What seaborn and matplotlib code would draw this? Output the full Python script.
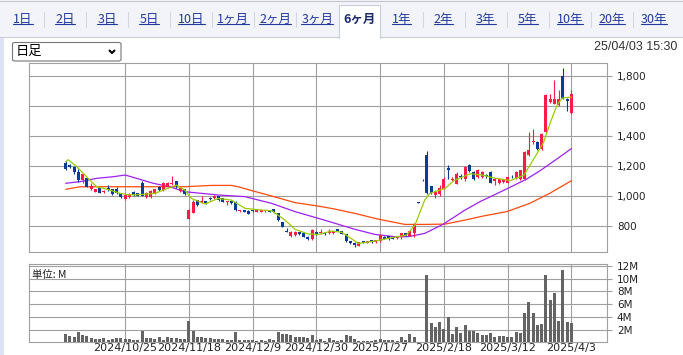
import matplotlib
matplotlib.use("Agg")
import matplotlib.pyplot as plt
import seaborn as sns
import numpy as np
from matplotlib.patches import Rectangle, FancyBboxPatch
from matplotlib.lines import Line2D

# ---- données (jour de bourse 0..119, prix en yen) ----
opens = [1222, 1207, 1196, 1162, 1107, 1118, 1047, 1029, 1051, 1027,
         1051, 1045, 1045, 1018, 978, 991, 1029, 1018, 1089, 996,
         996, 1018, 1062, 1040, 1062, 1080, 1100, 1036, 1044, 848,
         889, 973, 960, 965, 987, 984, 1000, 984, 960, 968,
         962, 898, 905, 902, 905, 896, 896, 900, 908, 911,
         884, 824, 769, 733, 740, 758, 751, 729, 711, 762,
         751, 751, 751, 751, 778, 767, 747, 700, 689, 669,
         700, 686, 704, 691, 700, 729, 733, 729, 718, 729,
         751, 736, 751, 960, 1109, 1273, 1067, 1007, 1013, 1049,
         1186, 1109, 1082, 1133, 1115, 1209, 1160, 1126, 1126, 1140,
         1160, 1098, 1089, 1093, 1089, 1128, 1120, 1115, 1115, 1275,
         1360, 1360, 1311, 1426, 1626, 1615, 1604, 1800, 1649, 1551]
closes = [1180, 1192, 1158, 1107, 1145, 1062, 1067, 1047, 1022, 1030,
          1040, 1015, 1020, 991, 1007, 1013, 1007, 1002, 1002, 1022,
          1033, 1044, 1040, 1084, 1089, 1085, 1065, 1051, 1013, 905,
          962, 940, 965, 952, 978, 1000, 973, 962, 965, 951,
          907, 905, 896, 882, 898, 907, 906, 903, 896, 893,
          840, 796, 762, 762, 762, 744, 729, 713, 773, 747,
          762, 744, 767, 767, 767, 747, 700, 684, 671, 693,
          689, 700, 693, 704, 740, 715, 713, 715, 729, 751,
          738, 767, 807, 955, 1104, 1018, 1018, 1024, 1055, 1115,
          1177, 1113, 1149, 1129, 1193, 1164, 1115, 1171, 1160, 1136,
          1089, 1115, 1111, 1111, 1126, 1124, 1160, 1171, 1297, 1304,
          1366, 1311, 1415, 1671, 1644, 1644, 1649, 1649, 1635, 1682]
highs = [1232, 1212, 1200, 1178, 1155, 1120, 1085, 1050, 1053, 1040,
         1073, 1048, 1058, 1020, 1010, 1018, 1033, 1022, 1098, 1025,
         1040, 1047, 1066, 1095, 1092, 1133, 1102, 1053, 1047, 912,
         975, 976, 1000, 968, 993, 1007, 1003, 986, 968, 970,
         965, 907, 908, 904, 908, 910, 909, 907, 910, 913,
         886, 826, 785, 765, 765, 760, 753, 731, 778, 765,
         778, 754, 778, 770, 781, 769, 750, 702, 692, 696,
         702, 703, 706, 707, 747, 731, 735, 731, 731, 753,
         754, 770, 818, 962, 1111, 1302, 1070, 1040, 1073, 1125,
         1209, 1125, 1160, 1145, 1200, 1212, 1165, 1178, 1165, 1150,
         1165, 1118, 1113, 1113, 1130, 1142, 1165, 1175, 1300, 1426,
         1449, 1364, 1420, 1680, 1678, 1771, 1704, 1853, 1652, 1707]
lows = [1175, 1185, 1150, 1095, 1090, 1058, 1040, 1025, 1018, 1018,
        1036, 1010, 1015, 985, 975, 988, 1002, 998, 998, 985,
        990, 1015, 1036, 1036, 1058, 1075, 1055, 1030, 1005, 845,
        885, 935, 955, 948, 975, 980, 970, 958, 940, 948,
        900, 895, 893, 878, 895, 893, 894, 896, 893, 890,
        836, 792, 758, 730, 737, 740, 725, 709, 708, 742,
        748, 740, 748, 748, 764, 744, 696, 680, 658, 666,
        686, 684, 690, 689, 696, 711, 710, 711, 715, 713,
        735, 733, 729, 953, 1102, 1011, 1011, 985, 1000, 1045,
        1111, 1100, 1078, 1115, 1098, 1160, 1110, 1120, 1122, 1122,
        1085, 1075, 1080, 1088, 1085, 1120, 1115, 1110, 1110, 1270,
        1350, 1305, 1305, 1420, 1620, 1612, 1600, 1645, 1564, 1545]

# volume (millions)
volume_m = [1.3, 1.0, 0.9, 1.6, 1.1, 1.0, 0.7, 0.5, 0.5, 0.7,
            0.4, 0.5, 0.7, 0.7, 0.5, 0.5, 0.4, 0.4, 1.8, 0.7,
            0.7, 0.5, 0.8, 0.4, 0.8, 0.7, 0.7, 0.5, 0.5, 3.3,
            1.8, 0.8, 0.8, 0.7, 0.7, 0.5, 0.5, 0.5, 0.4, 0.4,
            1.6, 0.4, 0.4, 0.4, 0.4, 0.2, 0.4, 0.2, 0.5, 0.4,
            1.6, 1.3, 1.3, 1.1, 0.8, 0.8, 0.8, 0.7, 1.1, 0.4,
            0.5, 0.2, 0.7, 0.4, 0.2, 0.4, 1.1, 1.0, 0.5, 0.2,
            0.2, 0.2, 0.2, 0.4, 0.5, 0.3, 0.4, 0.4, 0.2, 0.8,
            0.4, 1.3, 0.8, 0.05, 0.05, 10.6, 3.0, 2.4, 3.2, 2.1,
            3.9, 1.35, 2.4, 1.5, 2.7, 1.8, 1.8, 1.45, 1.15, 1.15,
            1.45, 0.83, 1.0, 1.0, 0.83, 0.83, 1.6, 1.45, 4.6, 6.3,
            4.6, 2.7, 2.85, 10.6, 6.6, 7.8, 3.3, 11.4, 3.2, 3.0]

# moyennes mobiles (jour, valeur)
ma5_day = [0, 0.6, 2.6, 4.9, 7.3, 10.4, 12.8, 15.1, 18.3, 21, 23, 26.1, 28,
           29.6, 32.8, 35.9, 39, 42.2, 46.1, 48.5, 51.6, 54, 57.1, 59.5, 62.6,
           65, 68.9, 72.8, 76.7, 80.2, 82.2, 84.5, 85.7, 89.3, 91.4, 95.3,
           98.4, 100.8, 104.7, 107.8, 110.2, 112.5, 114.1, 115.6, 116.8, 119]
ma5_val = [1229, 1242, 1196, 1129, 1062, 1040, 1018, 1007, 1011, 1018, 1040, 1073, 1040,
           984, 947, 984, 973, 918, 907, 902, 840, 778, 747, 744, 767,
           758, 684, 700, 722, 740, 807, 973, 1018, 1051, 1104, 1149,
           1138, 1120, 1104, 1138, 1249, 1360, 1493, 1604, 1653, 1660]
ma25_day = [0, 3.4, 7.3, 11.2, 14, 16.7, 20.6, 24.5, 28, 35.9, 42.2, 48.5, 54,
            59.5, 63.4, 68.1, 72.8, 77.5, 80.6, 84.5, 88.9, 94, 97.6, 103.9,
            108.6, 111.7, 115.7, 119]
ma25_val = [1085, 1096, 1118, 1129, 1140, 1118, 1085, 1062, 1029, 1007, 996, 951, 896,
            851, 818, 778, 744, 729, 729, 751, 813, 907, 964, 1049,
            1115, 1170, 1249, 1316]
ma75_day = [0, 3.4, 7.3, 14, 20.6, 28, 34.4, 39, 40.6, 43.8, 48.5, 54, 59.5,
            63.4, 68.1, 72.8, 77.5, 79.8, 84.5, 89.3, 94, 98.3, 103.8, 109.2,
            113.9, 119]
ma75_val = [1045, 1062, 1062, 1062, 1062, 1062, 1071, 1071, 1062, 1036, 1000, 956, 933,
            913, 884, 851, 824, 811, 811, 813, 840, 867, 896, 951,
            1018, 1102]

date_ticks = [14, 29, 44, 59, 74, 89, 104, 119]
date_labels = ["2024/10/25", "2024/11/18", "2024/12/9", "2024/12/30",
               "2025/1/27", "2025/2/18", "2025/3/12", "2025/4/3"]
price_ticks = [800, 1000, 1200, 1400, 1600, 1800]
vol_ticks = [2, 4, 6, 8, 10, 12]
tab_labels = ["1日", "2日", "3日", "5日", "10日", "1ヶ月", "2ヶ月", "3ヶ月",
              "6ヶ月", "1年", "2年", "3年", "5年", "10年", "20年", "30年"]
selected_tab = "6ヶ月"
timestamp = "25/04/03 15:30"

# ---- style ----
UP = "#ff1a48"
DOWN = "#0b3a98"
GRID = "#a0a0a0"
LINK = "#22399c"

sns.set_style("white")
CJK = ["Noto Sans CJK JP", "DejaVu Sans"]
plt.rcParams["font.family"] = ["DejaVu Sans"]

W, H = 683, 355
fig = plt.figure(figsize=(W / 100, H / 100), dpi=100)


def fx(px):
    return px / W


def fy(py):
    return 1 - py / H


def rect(x0, y0, x1, y1, **kw):
    fig.add_artist(Rectangle((fx(x0), fy(y1)), fx(x1) - fx(x0), fy(y0) - fy(y1),
                             transform=fig.transFigure, **kw))


def line(xs, ys, **kw):
    fig.add_artist(Line2D([fx(v) for v in xs], [fy(v) for v in ys],
                          transform=fig.transFigure, **kw))


XLIM = (-8.64, 127.4)

# ---- en-tête (onglets) ----
rect(0, 0, W, 37, facecolor="#f2f4f9", edgecolor="none", zorder=0)
line([0, W], [0.5, 0.5], color="#c4c8d0", lw=0.8)
line([0, 339], [37, 37], color="#c9ced9", lw=0.8)
line([380, W], [37, 37], color="#c9ced9", lw=0.8)
rect(0, 37, 4, H, facecolor="#dde3f2", edgecolor="none", zorder=0)

tab_cx = [23 + 42.07 * k for k in range(len(tab_labels))]
sel = tab_labels.index(selected_tab)
rect(339, 5, 380, 38, facecolor="white", edgecolor="none", zorder=1)
line([339, 339, 380, 380], [37.5, 5, 5, 37.5], color="#c9ced9", lw=0.8, zorder=2)

tab_texts = []
for k, (cx, lab) in enumerate(zip(tab_cx, tab_labels)):
    if k == sel:
        fig.text(fx(cx), fy(19), lab, ha="center", va="center", fontsize=9,
                 family=CJK, color="#1b2a6b", fontweight="bold", zorder=3)
        continue
    t = fig.text(fx(cx), fy(19), lab, ha="center", va="center", fontsize=9,
                 family=CJK, color=LINK, zorder=3)
    tab_texts.append(t)
    if k + 1 < len(tab_labels) and k + 1 != sel and k != sel:
        sx = (cx + tab_cx[k + 1]) / 2
        line([sx, sx], [12, 27], color="#d3d7df", lw=0.8)

# soulignement des liens
fig.canvas.draw()
inv = fig.transFigure.inverted()
for t in tab_texts:
    bb = t.get_window_extent()
    (x0, y0), (x1, _) = inv.transform([[bb.x0, bb.y0], [bb.x1, bb.y1]])
    fig.add_artist(Line2D([x0, x1], [y0 + 0.004, y0 + 0.004], transform=fig.transFigure,
                          color=LINK, lw=0.8))

# menu déroulant + horodatage
fig.add_artist(FancyBboxPatch((fx(12.5), fy(61)), fx(121) - fx(12.5), fy(42.5) - fy(61),
                              boxstyle="round,pad=0,rounding_size=0.004",
                              transform=fig.transFigure, facecolor="white",
                              edgecolor="#767676", lw=0.8))
fig.text(fx(16), fy(51.5), "日足", ha="left", va="center", fontsize=9.5,
         family=CJK, color="black")
line([109, 112, 115], [50, 53, 50], color="black", lw=1.5, solid_capstyle="butt")
fig.text(fx(677), fy(47), timestamp, ha="right", va="center", fontsize=9,
         family="Liberation Sans", color="#333333")

# ---- graphique des prix ----
ax = fig.add_axes([fx(29), fy(252.3), fx(607) - fx(29), fy(62.7) - fy(252.3)])
days = np.arange(len(closes))
o = np.array(opens, dtype=float)
c = np.array(closes, dtype=float)
cols = np.where(c >= o, UP, DOWN)

ax.vlines(days, lows, highs, colors=cols, linewidth=0.8, zorder=3)
ax.bar(days, np.maximum(np.abs(c - o), 6), bottom=np.minimum(o, c), width=0.72,
       color=cols, linewidth=0, zorder=4)

sns.lineplot(x=ma75_day, y=ma75_val, ax=ax, color="#ff4a0a", linewidth=0.9, zorder=2)
sns.lineplot(x=ma25_day, y=ma25_val, ax=ax, color="#a020f0", linewidth=0.9, zorder=2)
sns.lineplot(x=ma5_day, y=ma5_val, ax=ax, color="#9ccc00", linewidth=0.9, zorder=5)

ax.set_xlim(*XLIM)
ax.set_ylim(625, 1889)
ax.set_xticks(date_ticks)
ax.set_yticks(price_ticks)
ax.set_xticklabels([])
ax.yaxis.tick_right()
ax.set_yticklabels([f"{v:,}" for v in price_ticks])
ax.tick_params(axis="x", length=0)
ax.tick_params(axis="y", length=3.6, width=0.8, color=GRID, labelsize=7.5,
               pad=3.5, labelcolor="#222222")
ax.grid(True, color=GRID, linewidth=0.8)
ax.set_axisbelow(True)
for s in ax.spines.values():
    s.set_color(GRID)
    s.set_linewidth(0.8)
ax.set_xlabel("")
ax.set_ylabel("")

# ---- volume ----
ax2 = fig.add_axes([fx(29), fy(342.3), fx(607) - fx(29), fy(264) - fy(342.3)])
sns.barplot(x=days, y=volume_m, native_scale=True, color="#646464", saturation=1,
            width=0.7, errorbar=None, linewidth=0, ax=ax2, zorder=3)
ax2.set_xlim(*XLIM)
ax2.set_ylim(0, 12.28)
ax2.set_xticks(date_ticks)
ax2.set_xticklabels(date_labels, fontsize=8, color="#222222")
ax2.set_yticks(vol_ticks)
ax2.yaxis.tick_right()
ax2.set_yticklabels([f"{v}M" for v in vol_ticks])
ax2.tick_params(axis="x", length=0, pad=0.5)
ax2.tick_params(axis="y", length=3.6, width=0.8, color=GRID, labelsize=7.5,
                pad=3.5, labelcolor="#222222")
ax2.grid(True, color=GRID, linewidth=0.8)
ax2.set_axisbelow(True)
for s in ax2.spines.values():
    s.set_color(GRID)
    s.set_linewidth(0.8)
ax2.set_xlabel("")
ax2.set_ylabel("")
ax2.text(0.006, 0.93, "単位: M", transform=ax2.transAxes, ha="left", va="top",
         fontsize=7.5, family=CJK, color="#222222")

fig.savefig("out.png", dpi=100)
